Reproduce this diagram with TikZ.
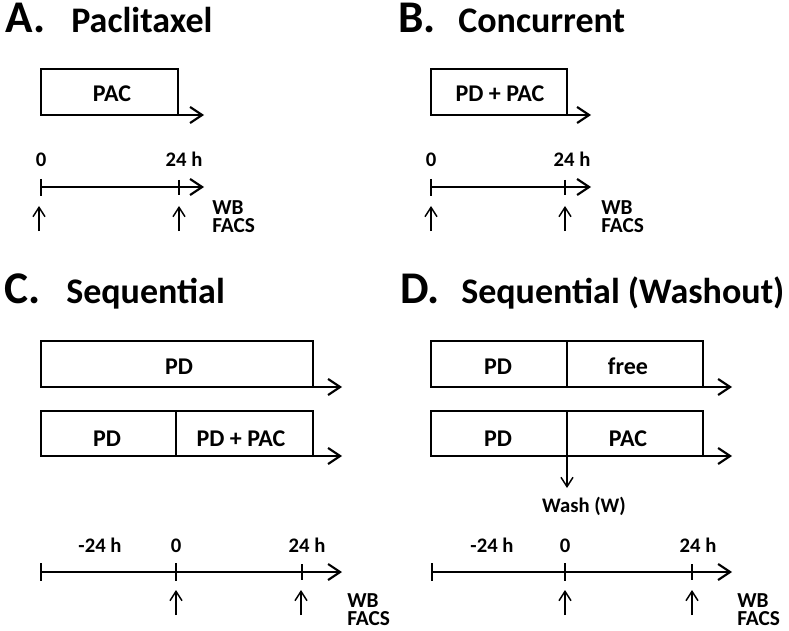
\documentclass[tikz,border=0pt]{standalone}
\usepackage{fontspec}
\setmainfont{Carlito}
\usetikzlibrary{arrows.meta}
\begin{document}
\begin{tikzpicture}[x=0.75pt,y=-0.75pt,
  box/.style={draw=black,line width=1.5pt},
  tline/.style={draw=black,line width=1.6pt,-{Straight Barb[length=9pt,width=12pt,line width=1.6pt]}},
  tick/.style={draw=black,line width=1.4pt},
  mark arrow/.style={draw=black,line width=1.1pt,-{Straight Barb[length=7pt,width=9pt,line width=1.1pt]}},
  boxtxt/.style={font=\bfseries\fontsize{18}{20}\selectfont,anchor=base,inner sep=0pt},
  lbl/.style={font=\bfseries\fontsize{15.5}{17}\selectfont,anchor=base,inner sep=0pt},
  side/.style={font=\bfseries\fontsize{16}{13.5}\selectfont,anchor=base west,inner sep=0pt,align=left},
  washlbl/.style={font=\bfseries\fontsize{15.5}{17}\selectfont,anchor=base,inner sep=0pt},
  letter/.style={font=\bfseries\fontsize{34}{38}\selectfont,anchor=base west,inner sep=0pt},
  ttl/.style={font=\bfseries\fontsize{27}{30}\selectfont,anchor=base west,inner sep=0pt}]
\useasboundingbox (0,0) rectangle (789,631);

% ---------- Panel A ----------
\node[letter] (tA) at (5,33) {A.};
\node[ttl] (tA2) at (71,33) {Paclitaxel};
\draw[box] (41,69) rectangle (178,115);
\node[boxtxt] (a1) at (112,101.5) {PAC};
\coordinate (aE) at (178,115); \coordinate (aF) at (204,115);
\draw[tline] (aE) -- (aF);
\coordinate (aT0) at (41,187); \coordinate (aT1) at (204,187);
\draw[tline] (aT0) -- (aT1);
\draw[tick] (41,179) -- (41,196);
\draw[tick] (179,180) -- (179,195);
\node[lbl] (a0) at (41,167) {0};
\node[lbl] (a24) at (184,167) {24 h};
\coordinate (aU1) at (39,231); \coordinate (aU1e) at (39,206);
\coordinate (aU2) at (179,231); \coordinate (aU2e) at (179,206);
\draw[mark arrow] (aU1) -- (aU1e);
\draw[mark arrow] (aU2) -- (aU2e);
\node[side] (aWB) at (212,232.5) {WB\\FACS};

% ---------- Panel B ----------
\node[letter] (tB) at (398,33) {B.};
\node[ttl] (tB2) at (458,33) {Concurrent};
\draw[box] (431,69) rectangle (567,115);
\node[boxtxt] (b1) at (500,101.5) {PD + PAC};
\coordinate (bE) at (567,115); \coordinate (bF) at (591,115);
\draw[tline] (bE) -- (bF);
\coordinate (bT0) at (431,187); \coordinate (bT1) at (591,187);
\draw[tline] (bT0) -- (bT1);
\draw[tick] (431,179) -- (431,196);
\draw[tick] (565,180) -- (565,195);
\node[lbl] (b0) at (431,167) {0};
\node[lbl] (b24) at (572,167) {24 h};
\coordinate (bU1) at (431,231); \coordinate (bU1e) at (431,206);
\coordinate (bU2) at (565,231); \coordinate (bU2e) at (565,206);
\draw[mark arrow] (bU1) -- (bU1e);
\draw[mark arrow] (bU2) -- (bU2e);
\node[side] (bWB) at (601,232.5) {WB\\FACS};

% ---------- Panel C ----------
\node[letter] (tC) at (4,303) {C.};
\node[ttl] (tC2) at (66,303) {Sequential};
\draw[box] (41,341) rectangle (313,387);
\node[boxtxt] (c1) at (179,374) {PD};
\coordinate (cE1) at (313,387); \coordinate (cF1) at (342,387);
\draw[tline] (cE1) -- (cF1);
\draw[box] (41,411) rectangle (313,456);
\draw[box] (176,411) -- (176,456);
\node[boxtxt] (c2) at (107,446) {PD};
\node[boxtxt] (c3) at (241,446) {PD + PAC};
\coordinate (cE2) at (313,456); \coordinate (cF2) at (342,456);
\draw[tline] (cE2) -- (cF2);
\coordinate (cT0) at (41,572); \coordinate (cT1) at (342,572);
\draw[tline] (cT0) -- (cT1);
\draw[tick] (41,563) -- (41,581);
\draw[tick] (176,563) -- (176,581);
\draw[tick] (302,564) -- (302,580);
\node[lbl] (cm24) at (100,552) {-24 h};
\node[lbl] (c0) at (176,552) {0};
\node[lbl] (c24) at (307,552) {24 h};
\coordinate (cU1) at (176,615); \coordinate (cU1e) at (176,590);
\coordinate (cU2) at (301,615); \coordinate (cU2e) at (301,590);
\draw[mark arrow] (cU1) -- (cU1e);
\draw[mark arrow] (cU2) -- (cU2e);
\node[side] (cWB) at (347,625.5) {WB\\FACS};

% ---------- Panel D ----------
\node[letter] (tD) at (400,303) {D.};
\node[ttl] (tD2) at (461,303) {Sequential (Washout)};
\draw[box] (431,341) rectangle (703,387);
\draw[box] (567,341) -- (567,387);
\node[boxtxt] (d1) at (498,374) {PD};
\node[boxtxt] (d2) at (628,374) {free};
\coordinate (dE1) at (703,387); \coordinate (dF1) at (732,387);
\draw[tline] (dE1) -- (dF1);
\draw[box] (431,411) rectangle (703,456);
\draw[box] (567,411) -- (567,456);
\node[boxtxt] (d3) at (498,446) {PD};
\node[boxtxt] (d4) at (628,446) {PAC};
\coordinate (dE2) at (703,456); \coordinate (dF2) at (732,456);
\draw[tline] (dE2) -- (dF2);
\coordinate (dW0) at (567,457); \coordinate (dW1) at (567,488);
\draw[mark arrow] (dW0) -- (dW1);
\node[washlbl] (dwash) at (584,512) {Wash (W)};
\coordinate (dT0) at (431,572); \coordinate (dT1) at (732,572);
\draw[tline] (dT0) -- (dT1);
\draw[tick] (432,563) -- (432,581);
\draw[tick] (565,563) -- (565,581);
\draw[tick] (692,564) -- (692,580);
\node[lbl] (dm24) at (492,552) {-24 h};
\node[lbl] (d0) at (565,552) {0};
\node[lbl] (d24) at (698,552) {24 h};
\coordinate (dU1) at (565,615); \coordinate (dU1e) at (565,590);
\coordinate (dU2) at (692,615); \coordinate (dU2e) at (692,590);
\draw[mark arrow] (dU1) -- (dU1e);
\draw[mark arrow] (dU2) -- (dU2e);
\node[side] (dWB) at (737,625.5) {WB\\FACS};
\end{tikzpicture}
\end{document}
